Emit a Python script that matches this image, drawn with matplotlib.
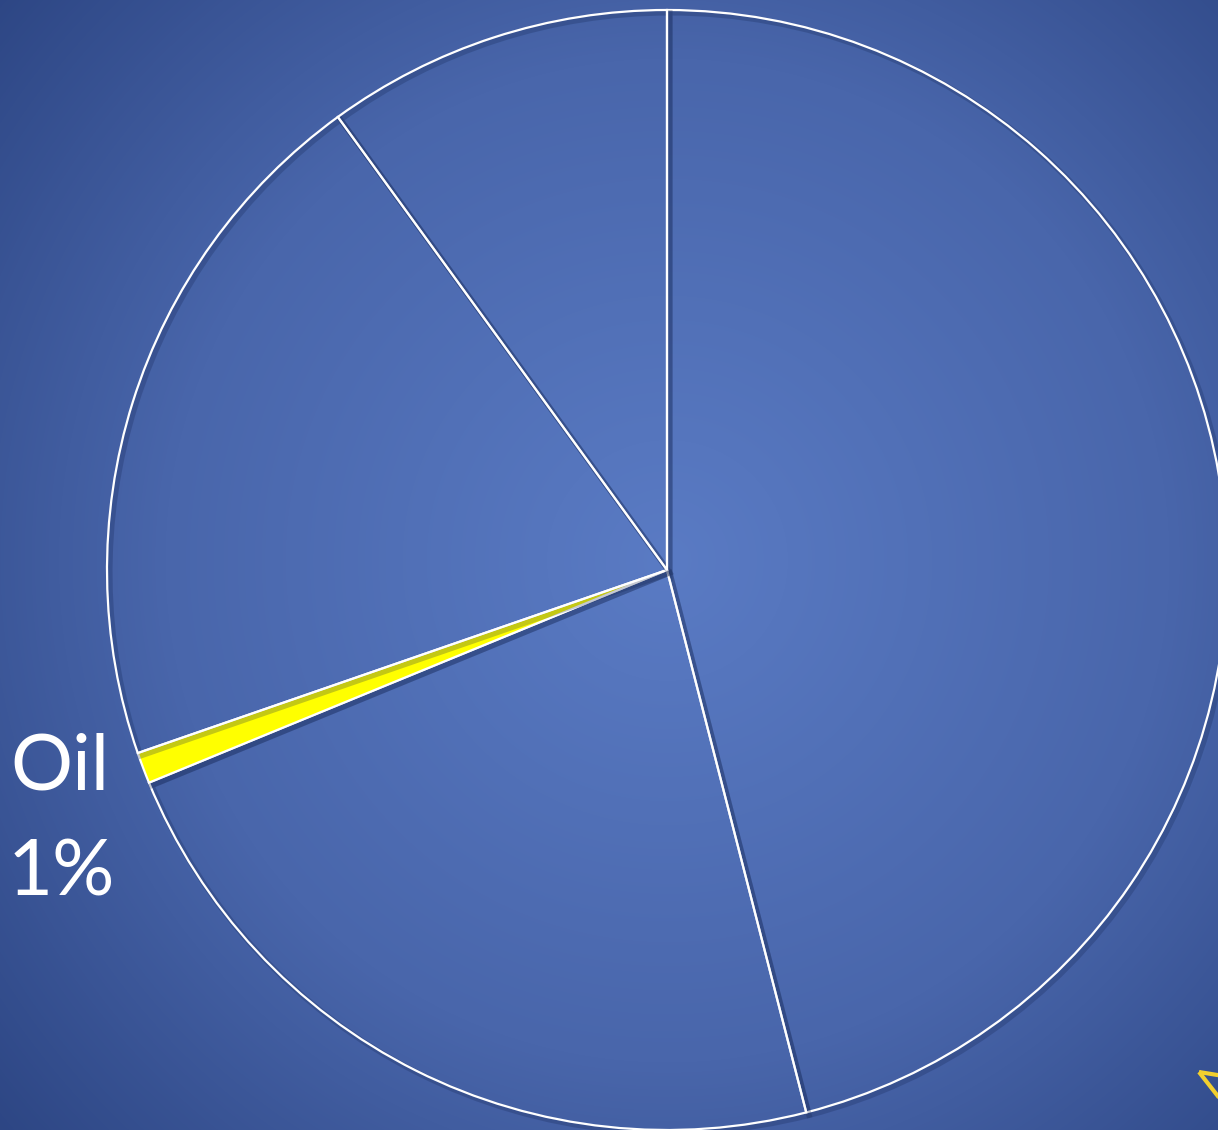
import numpy as np
import matplotlib.pyplot as plt
import matplotlib.patheffects as pe
from matplotlib.colors import LinearSegmentedColormap
from matplotlib.patches import Polygon

# share of each source (clockwise from 12 o'clock)
sources = ['A', 'B', 'Oil', 'D', 'E']
shares = [46, 22.8, 0.9, 20.3, 10]
colors = ['none', 'none', '#ffff00', 'none', 'none']
shown_label = 'Oil'

W, H = 1218, 1130
fig = plt.figure(figsize=(W / 100, H / 100), dpi=100)
ax = fig.add_axes([0, 0, 1, 1])

# radial blue background
cx, cy = 667, 560
yy, xx = np.mgrid[0:H, 0:W]
dist = np.hypot(xx - cx, (H - 1 - yy) - cy) / 880.0
bg = LinearSegmentedColormap.from_list(
    'bg', [(0, '#5a7bc4'), (0.57, '#4966ab'), (1.0, '#2d4684')])
ax.imshow(dist, cmap=bg, vmin=0, vmax=1, extent=[0, W, 0, H],
          origin='lower', zorder=0, interpolation='bilinear')

wedges, _ = ax.pie(shares, colors=colors, startangle=90, counterclock=False,
                   center=(cx, cy), radius=560,
                   wedgeprops=dict(edgecolor='white', linewidth=1.6))
for w in wedges:
    w.set_zorder(2)
    w.set_path_effects([pe.SimpleLineShadow(offset=(2, -2), shadow_color='#142552',
                                            alpha=0.25, linewidth=4),
                        pe.Normal()])

font = ['Lato', 'DejaVu Sans']
ax.text(10, H - 790, shown_label, color='white', fontsize=56,
        family=font, ha='left', va='baseline', zorder=3)
ax.text(8, H - 895, f"{round(shares[sources.index(shown_label)])}%", color='white',
        fontsize=56, family=font, ha='left', va='baseline', zorder=3)

# partly visible yellow outline at the lower right corner
ax.add_patch(Polygon([(1199, H - 1072), (1260, H - 1082), (1260, H - 1150)],
                     closed=True, fill=False, edgecolor='#f2cf2e', linewidth=3,
                     zorder=3))

ax.set_xlim(0, W)
ax.set_ylim(0, H)
ax.set_aspect('auto')
ax.axis('off')

fig.savefig('out.png', dpi=100)
plt.close(fig)
